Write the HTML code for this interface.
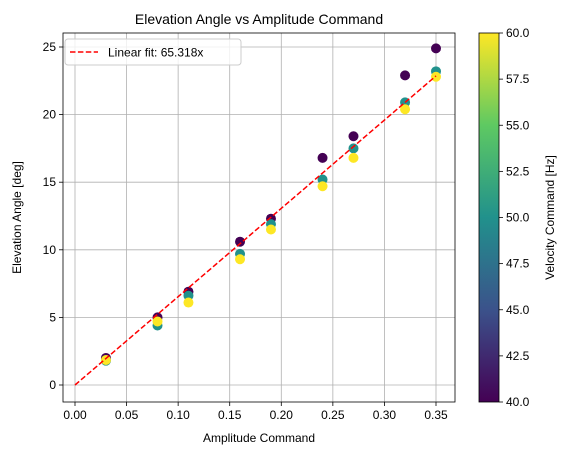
<!DOCTYPE html>
<html><head><meta charset="utf-8"><style>
body{margin:0;background:#fff;}
svg{font-family:"Liberation Sans","DejaVu Sans",sans-serif;}
</style></head><body>
<svg id="chart" width="567" height="455" viewBox="0 0 567 455" xmlns="http://www.w3.org/2000/svg">
<defs><linearGradient id="vir" x1="0" y1="1" x2="0" y2="0">
<stop offset="0" stop-color="#440154"/><stop offset="0.25" stop-color="#3b528b"/><stop offset="0.5" stop-color="#21918c"/><stop offset="0.75" stop-color="#5ec962"/><stop offset="1" stop-color="#fde725"/></linearGradient></defs>
<g id="grid"></g><g id="marks"></g><g id="axes"></g>
</svg>
<script>
const amplitudes=[0.03,0.08,0.11,0.16,0.19,0.24,0.27,0.32,0.35];
const velocities=[40,50,60];
const elev40=[2.0,5.0,6.9,10.6,12.3,16.8,18.4,22.9,24.9];
const elev50=[1.8,4.4,6.6,9.7,11.9,15.2,17.5,20.9,23.2];
const elev60=[1.85,4.7,6.1,9.3,11.5,14.7,16.8,20.4,22.8];
const slope=[65.318];
const xTicks=[0,0.05,0.1,0.15,0.2,0.25,0.3,0.35];
const xTickLabels=["0.00","0.05","0.10","0.15","0.20","0.25","0.30","0.35"];
const yTicks=[0,5,10,15,20,25];
const cbTicks=[40,42.5,45,47.5,50,52.5,55,57.5,60];
const colors={40:"#440154",50:"#21918c",60:"#fde725"};
const L=63,R=455,T=33,B=402;
const X=v=>75+(v/0.35)*(436-75);
const Y=v=>385-(v/25)*(385-47);
const CB=v=>402-(v-40)/20*369;
const NS="http://www.w3.org/2000/svg";
const svg=document.getElementById('chart');
function mk(tag,attrs,parent,text){const e=document.createElementNS(NS,tag);for(const k in attrs)e.setAttribute(k,attrs[k]);if(text!==undefined)e.textContent=text;(parent||svg).appendChild(e);return e;}
const grid=document.getElementById('grid'),marks=document.getElementById('marks'),axes=document.getElementById('axes');
xTicks.forEach((t,i)=>{const x=X(t);
const g=mk('line',{x1:x,x2:x,y1:T,y2:B,stroke:'#b0b0b0','stroke-width':0.8},grid);

mk('line',{x1:x,x2:x,y1:B,y2:B+4,stroke:'#000','stroke-width':0.8},axes);
const l=mk('text',{x:x,y:B+17,'font-size':12,'text-anchor':'middle'},axes,xTickLabels[i]);
});
yTicks.forEach(t=>{const y=Y(t);
const g=mk('line',{x1:L,x2:R,y1:y,y2:y,stroke:'#b0b0b0','stroke-width':0.8},grid);

mk('line',{x1:L-4,x2:L,y1:y,y2:y,stroke:'#000','stroke-width':0.8},axes);
const l=mk('text',{x:L-7,y:y+4,'font-size':12,'text-anchor':'end'},axes,String(t));
});
[[40,elev40],[50,elev50],[60,elev60]].forEach(([v,arr])=>{arr.forEach((e,i)=>{
const c=mk('circle',{cx:X(amplitudes[i]),cy:Y(e),r:5,fill:colors[v]},marks);
});});
const fit=mk('line',{x1:X(0),y1:Y(0),x2:X(0.35),y2:Y(slope[0]*0.35),stroke:'#ff0000','stroke-width':1.5,'stroke-dasharray':'5.5,2.4'},marks);

const frame=mk('rect',{x:L,y:T,width:R-L,height:B-T,fill:'none',stroke:'#000','stroke-width':0.8},axes);

const lg=mk('g',{},axes);
mk('rect',{x:65,y:39,width:176,height:26,rx:3,fill:'#fff','fill-opacity':0.8,stroke:'#ccc'},lg);
mk('line',{x1:70,x2:98,y1:52,y2:52,stroke:'#ff0000','stroke-width':1.5,'stroke-dasharray':'5.5,2.4'},lg);
mk('text',{x:108,y:56.5,'font-size':12},lg,'Linear fit: 65.318x');
const t=mk('text',{x:(L+R)/2,y:24,'font-size':14,'text-anchor':'middle'},axes,'Elevation Angle vs Amplitude Command');

const xt=mk('text',{x:(L+R)/2,y:442,'font-size':12,'text-anchor':'middle'},axes,'Amplitude Command');

const yt=mk('text',{x:0,y:0,'font-size':12,'text-anchor':'middle',transform:'translate(21,'+((T+B)/2)+') rotate(-90)'},axes,'Elevation Angle [deg]');

const cb=mk('rect',{x:479,y:T,width:20,height:B-T,fill:'url(#vir)',stroke:'#000','stroke-width':0.8},axes);

cbTicks.forEach(v=>{const y=CB(v);mk('line',{x1:499,x2:503,y1:y,y2:y,stroke:'#000','stroke-width':0.8},axes);
const l=mk('text',{x:506,y:y+4,'font-size':12},axes,v.toFixed(1));
});
const ct=mk('text',{x:0,y:0,'font-size':12,'text-anchor':'middle',transform:'translate(554,'+((T+B)/2)+') rotate(-90)'},axes,'Velocity Command [Hz]');

</script>
</body></html>
